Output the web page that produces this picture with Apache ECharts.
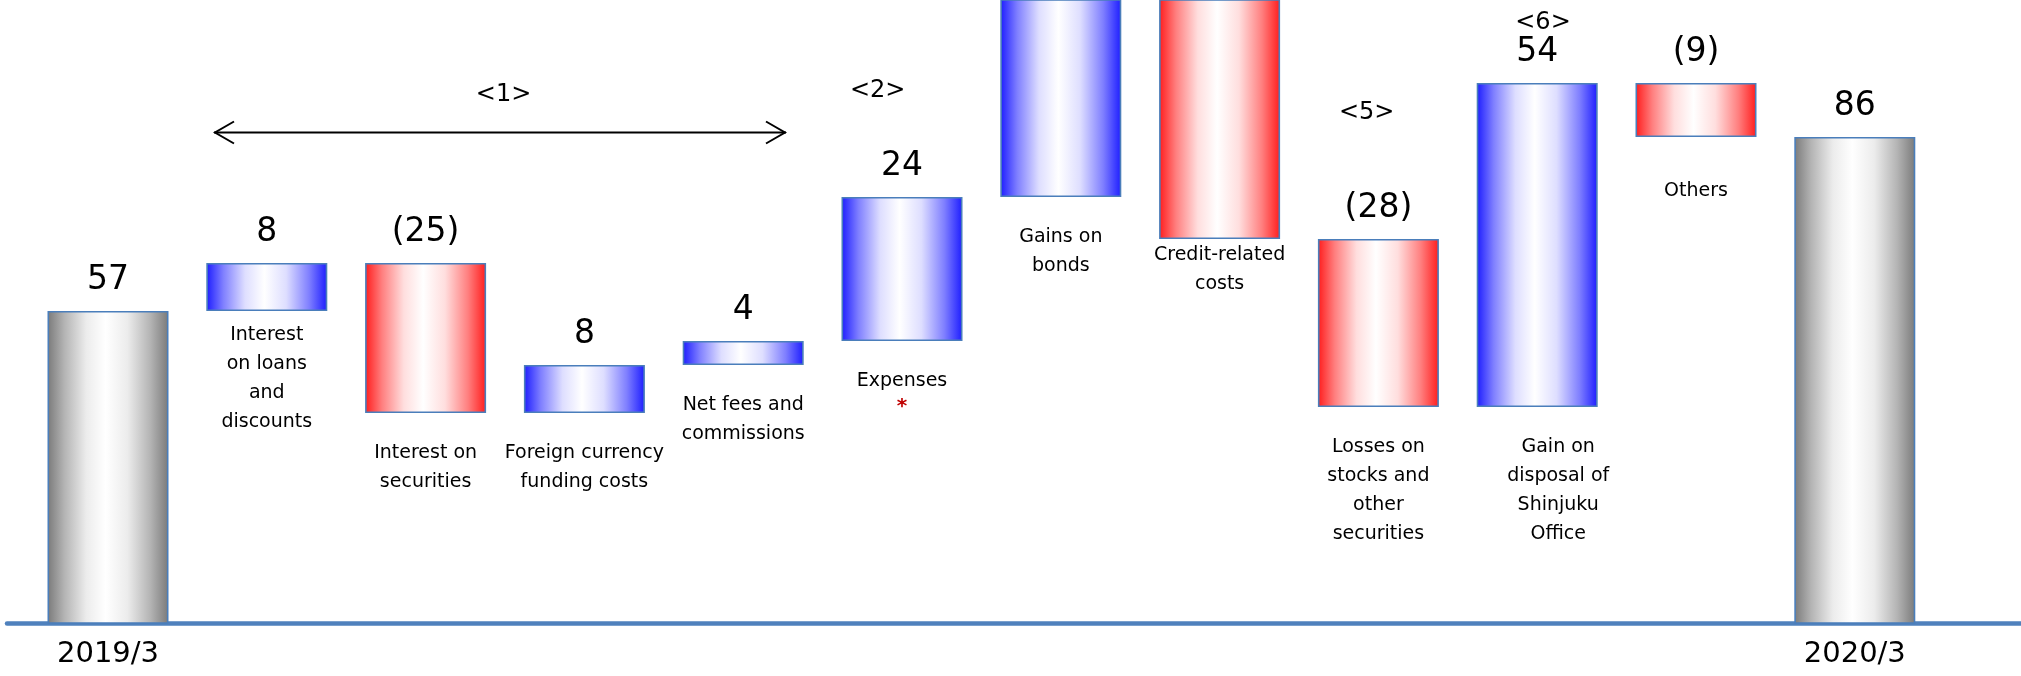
<!DOCTYPE html>
<html>
<head>
<meta charset="utf-8">
<script src="https://cdn.jsdelivr.net/npm/echarts@6/dist/echarts.min.js"></script>
<style>
  html, body { margin: 0; padding: 0; background: #ffffff; }
  #chart { width: 2021px; height: 676px; }
</style>
</head>
<body>
<div id="chart"></div>
<script>
// Net income bridge, 2019/3 -> 2020/3
const categories = [
  '2019/3',
  'Interest on loans and discounts',
  'Interest on securities',
  'Foreign currency funding costs',
  'Net fees and commissions',
  'Expenses',
  'Gains on bonds',
  'Credit-related costs',
  'Losses on stocks and other securities',
  'Gain on disposal of Shinjuku Office',
  'Others',
  '2020/3'
];
const notes = [
  '',
  'Interest\non loans\nand\ndiscounts',
  'Interest on\nsecurities',
  'Foreign currency\nfunding costs',
  'Net fees and\ncommissions',
  'Expenses\n{star|*}',
  'Gains on\nbonds',
  'Credit-related\ncosts',
  'Losses on\nstocks and\nother\nsecurities',
  'Gain on\ndisposal of\nShinjuku\nOffice',
  'Others',
  ''
];
const changes = [57, 8, -25, 8, 4, 24, 44, -51, -28, 54, -9, 86];
const isTotal = [true, false, false, false, false, false, false, false, false, false, false, true];
const groupTags = ['<1>', '<2>', '<5>', '<6>'];

// Waterfall geometry: invisible base + visible step
const baseVals = [];
const stepVals = [];
let running = 0;
changes.forEach((c, i) => {
  if (isTotal[i]) {
    baseVals.push(0);
    stepVals.push(c);
    running = c;
  } else {
    const next = running + c;
    baseVals.push(Math.min(running, next));
    stepVals.push(Math.abs(c));
    running = next;
  }
});

const FONT = 'DejaVu Sans';
const PLOT_H = 623;          // plot height in px (baseline at the bottom)
const PX_PER_UNIT = 6;
const Y_MIN = 5;

function sideGradient(edge, mid) {
  return {
    type: 'linear', x: 0, y: 0, x2: 1, y2: 0,
    colorStops: [
      { offset: 0, color: edge },
      { offset: 0.14, color: mid[0] },
      { offset: 0.32, color: mid[1] },
      { offset: 0.48, color: '#ffffff' },
      { offset: 0.66, color: mid[1] },
      { offset: 0.85, color: mid[0] },
      { offset: 1, color: edge }
    ]
  };
}
const fillTotal = sideGradient('#7a7a7a', ['#b4b4b4', '#ececec']);
const fillUp = sideGradient('#1c1cff', ['#7f7fff', '#dedeff']);
const fillDown = sideGradient('#ff1c1c', ['#ff7f7f', '#ffdede']);

// caption placement below each step
const noteGap = { 1: 10, 7: 2, 10: 40 };
const noteShift = { 9: 21 };

const baseData = baseVals.map((v, i) => ({
  value: v,
  label: {
    distance: noteGap[i] !== undefined ? noteGap[i] : 26,
    offset: [noteShift[i] || 0, 0]
  }
}));

const stepData = stepVals.map((v, i) => ({
  value: v,
  itemStyle: {
    color: isTotal[i] ? fillTotal : (changes[i] > 0 ? fillUp : fillDown)
  }
}));

const chart = echarts.init(document.getElementById('chart'), null, { renderer: 'canvas' });

chart.setOption({
  animation: false,
  backgroundColor: '#ffffff',
  grid: [
    { left: 28.6, right: 86.8, top: 0, height: PLOT_H },
    { left: 7, right: 0, top: 0, height: PLOT_H }
  ],
  xAxis: [
    {
      type: 'category',
      gridIndex: 0,
      data: categories,
      axisLine: { show: false },
      axisTick: { show: false },
      axisLabel: {
        interval: 0,
        margin: 17,
        fontFamily: FONT,
        fontSize: 29,
        color: '#000000',
        formatter: (v, i) => (isTotal[i] ? v : '')
      }
    },
    {
      type: 'value',
      gridIndex: 1,
      min: 0,
      max: 1,
      axisLine: { show: true, lineStyle: { color: '#4f81bd', width: 4.5 } },
      axisTick: { show: false },
      axisLabel: { show: false },
      splitLine: { show: false }
    }
  ],
  yAxis: [
    {
      type: 'value',
      gridIndex: 0,
      min: Y_MIN,
      max: Y_MIN + PLOT_H / PX_PER_UNIT,
      show: false,
      splitLine: { show: false }
    },
    {
      type: 'value',
      gridIndex: 1,
      show: false,
      splitLine: { show: false }
    }
  ],
  series: [
    {
      name: 'base',
      type: 'bar',
      stack: 'bridge',
      xAxisIndex: 0,
      yAxisIndex: 0,
      barWidth: 121,
      clip: true,
      silent: true,
      itemStyle: { color: 'rgba(0,0,0,0)', borderWidth: 0 },
      label: {
        show: true,
        position: 'insideTop',
        fontFamily: FONT,
        fontSize: 19,
        lineHeight: 29,
        color: '#000000',
        align: 'center',
        formatter: (p) => notes[p.dataIndex],
        rich: {
          star: {
            fontFamily: FONT,
            fontSize: 20,
            fontWeight: 'bold',
            lineHeight: 22,
            color: '#c00000'
          }
        }
      },
      data: baseData,
      z: 3
    },
    {
      name: 'step',
      type: 'bar',
      stack: 'bridge',
      xAxisIndex: 0,
      yAxisIndex: 0,
      barWidth: 121,
      clip: true,
      itemStyle: { borderColor: '#4a7ebb', borderWidth: 1.6 },
      label: {
        show: true,
        position: 'top',
        distance: 14,
        fontFamily: FONT,
        fontSize: 33,
        color: '#000000',
        formatter: (p) => {
          const c = changes[p.dataIndex];
          return c < 0 ? '(' + (-c) + ')' : String(c);
        }
      },
      data: stepData,
      z: 4
    }
  ],
  graphic: [
    // double-headed bracket over the net interest group
    {
      type: 'polyline',
      shape: { points: [[214, 132.5], [786, 132.5]] },
      style: { stroke: '#000000', lineWidth: 2, fill: null },
      z: 10
    },
    {
      type: 'polyline',
      shape: { points: [[234, 121.5], [215, 132.5], [234, 143.5]] },
      style: { stroke: '#000000', lineWidth: 2, fill: null },
      z: 10
    },
    {
      type: 'polyline',
      shape: { points: [[766, 121.5], [785, 132.5], [766, 143.5]] },
      style: { stroke: '#000000', lineWidth: 2, fill: null },
      z: 10
    },
    ...[[503.6, 95], [877.7, 91], [1366.7, 113], [1543, 23]].map((pt, k) => ({
      type: 'text',
      x: pt[0],
      y: pt[1],
      style: {
        text: groupTags[k],
        fill: '#000000',
        font: '24px "DejaVu Sans"',
        align: 'center',
        verticalAlign: 'middle',
        textAlign: 'center',
        textVerticalAlign: 'middle'
      },
      z: 10
    }))
  ]
});
</script>
</body>
</html>
